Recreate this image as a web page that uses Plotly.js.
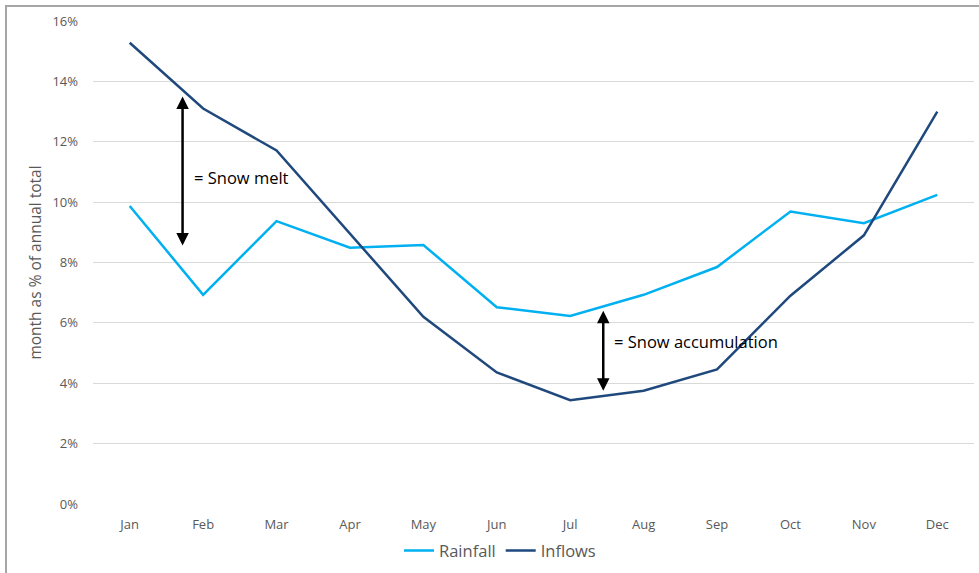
<!DOCTYPE html>
<html>
<head>
<meta charset="utf-8">
<script src="https://cdn.plot.ly/plotly-3.0.1.min.js"></script>
<style>
  html, body { margin: 0; padding: 0; background: #fff; }
  #wrap { position: relative; width: 979px; height: 573px; overflow: hidden; }
  #chart { width: 979px; height: 573px; }
  #border { position: absolute; left: 5px; top: 5px; width: 990px; height: 600px;
            border-top: 2px solid #a6a6a6; border-left: 2px solid #a6a6a6; pointer-events: none; }
</style>
</head>
<body>
<div id="wrap">
  <div id="chart"></div>
  <div id="border"></div>
</div>
<script>
const months = ["Jan","Feb","Mar","Apr","May","Jun","Jul","Aug","Sep","Oct","Nov","Dec"];
const rainfall = [0.0987, 0.0693, 0.0937, 0.0849, 0.0858, 0.0652, 0.0623, 0.0693, 0.0785, 0.0969, 0.0930, 0.1024];
const inflows  = [0.1528, 0.1310, 0.1171, 0.0895, 0.0620, 0.0436, 0.0344, 0.0375, 0.0446, 0.0690, 0.0890, 0.1300];

// annotation arrows: [x position (category index), top, bottom]
const meltArrow = [0.72, 0.1350, 0.0851];
const accumArrow = [6.45, 0.0640, 0.0370];
const meltLabel = [0.85, 0.1080, "= Snow melt"];
const accumLabel = [6.57, 0.0538, "= Snow accumulation"];

const FONT = "'Open Sans', sans-serif";

const traces = [
  { x: months, y: rainfall, name: "Rainfall", type: "scatter", mode: "lines",
    line: { color: "#00B0F0", width: 2.5 } },
  { x: months, y: inflows, name: "Inflows", type: "scatter", mode: "lines",
    line: { color: "#1F497D", width: 2.5 } }
];

function arrow(a) {
  return { x: a[0], y: a[1], ax: a[0], ay: a[2], xref: "x", yref: "y", axref: "x", ayref: "y",
           text: "", showarrow: true, arrowhead: 2, arrowside: "end+start", arrowsize: 1,
           arrowwidth: 2.5, arrowcolor: "#000000", standoff: 0, startstandoff: 0 };
}
function label(l) {
  return { x: l[0], y: l[1], xref: "x", yref: "y", text: l[2], showarrow: false,
           xanchor: "left", yanchor: "middle", font: { family: FONT, size: 16.5, color: "#000000" } };
}

const layout = {
  width: 979, height: 573,
  margin: { l: 93, r: 5, t: 21, b: 67 },
  paper_bgcolor: "#ffffff", plot_bgcolor: "#ffffff",
  font: { family: FONT, color: "#595959", size: 13 },
  showlegend: true,
  legend: { orientation: "h", x: 0.462, xanchor: "center", y: -0.097, yanchor: "middle",
            font: { family: FONT, size: 16.5, color: "#595959" }, itemwidth: 30, traceorder: "normal" },
  xaxis: { type: "category", categoryorder: "array", categoryarray: months,
           showgrid: false, zeroline: false, showline: false, ticks: "",
           tickfont: { family: FONT, size: 13, color: "#595959" }, ticklabelstandoff: 11,
           range: [-0.5, 11.5] },
  yaxis: { range: [0, 0.16], dtick: 0.02, tickformat: ".0%", showgrid: true, gridcolor: "#d9d9d9",
           gridwidth: 1, zeroline: false, showline: false, ticks: "",
           tickfont: { family: FONT, size: 13, color: "#595959" }, ticklabelstandoff: 14,
           title: { text: "month as % of annual total", font: { family: FONT, size: 15.5, color: "#595959" }, standoff: 6 } },
  annotations: [arrow(meltArrow), arrow(accumArrow), label(meltLabel), label(accumLabel)]
};

Plotly.newPlot("chart", traces, layout, { displayModeBar: false, staticPlot: true });
</script>
</body>
</html>
